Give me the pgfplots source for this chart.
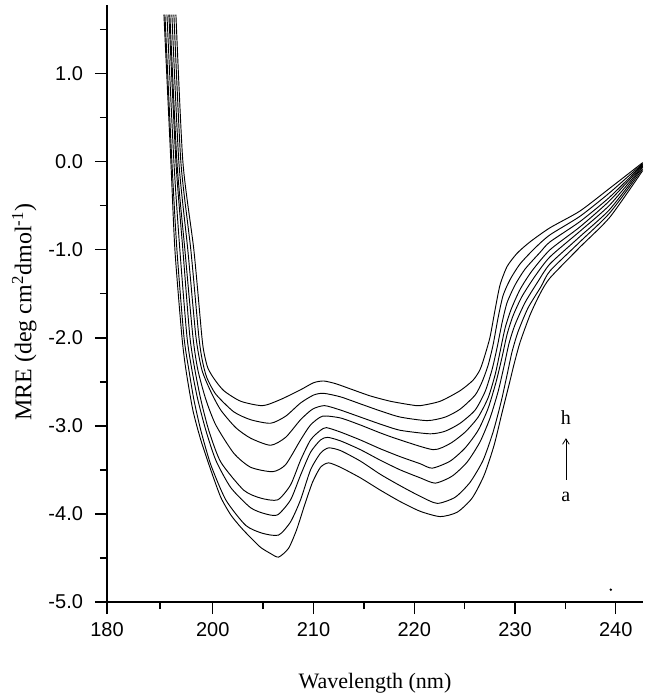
\documentclass[border=0pt]{standalone}
\usepackage{pgfplots}
\pgfplotsset{compat=1.18}
\usetikzlibrary{arrows.meta}
\usepackage{fontspec}
\setmainfont{Liberation Serif}
\newfontfamily\tickfont{Liberation Sans}
\begin{document}
\begin{tikzpicture}
\begin{axis}[
  scale only axis, width=402pt, height=447.75pt,
  xmin=189.5, xmax=242.7, ymin=-5, ymax=1.78,
  axis x line*=bottom, axis y line*=left,
  axis line style={line width=1pt, black, -},
  every tick/.style={black, line width=1pt},
  tick align=outside,
  major tick length=9pt, minor tick length=5.25pt,
  xtick={189.5,200,210,220,230,240},
  xticklabels={180,200,210,220,230,240},
  minor xtick={194.75,205,215,225,235},
  ytick={-5,-4,-3,-2,-1,0,1},
  minor ytick={-4.5,-3.5,-2.5,-1.5,-0.5,0.5,1.5},
  /pgf/number format/assume math mode=true,
  yticklabel style={/pgf/number format/fixed, /pgf/number format/fixed zerofill, /pgf/number format/precision=1, font=\tickfont\fontsize{15}{15}\selectfont, xshift=-5.5pt},
  xticklabel style={font=\tickfont\fontsize{15}{15}\selectfont, yshift=-3pt},
  scaled y ticks=false,
  clip=false,
  xlabel={Wavelength (nm)},
  ylabel={MRE (deg cm\textsuperscript{2}dmol\textsuperscript{-1})},
  every axis x label/.style={at={([yshift=-61pt]rel axis cs:0.5,0)}, anchor=center, font=\fontsize{16.5}{16.5}\selectfont},
  every axis y label/.style={at={([xshift=-62pt,yshift=-6.5pt]rel axis cs:0,0.5)}, anchor=center, rotate=90, font=\fontsize{18}{18}\selectfont},
  cycle list={{black, solid, mark=none}},
  every axis plot/.append style={line width=0.7pt, smooth, tension=0.4},
]
% h
\addplot coordinates {(196.34,1.67)(197.03,0)(198.12,-1.00)(198.91,-1.98)(199.15,-2.18)(199.50,-2.34)(200.10,-2.46)(201.09,-2.60)(202.77,-2.72)(204.95,-2.77)(206.73,-2.70)(208.71,-2.59)(210.00,-2.51)(210.99,-2.49)(212.18,-2.52)(213.66,-2.58)(215.64,-2.66)(217.62,-2.72)(219.60,-2.76)(220.59,-2.77)(222.57,-2.72)(224.55,-2.60)(225.84,-2.48)(226.53,-2.36)(227.03,-2.19)(227.52,-1.99)(228.02,-1.68)(228.51,-1.40)(229.21,-1.19)(230.20,-1.04)(231.49,-0.91)(233.47,-0.75)(236.44,-0.56)(239.41,-0.30)(242.67,-0.01)};
% g
\addplot coordinates {(196.14,1.67)(196.83,0)(197.82,-1.00)(198.61,-1.98)(198.95,-2.25)(199.40,-2.45)(200.30,-2.64)(202.08,-2.84)(203.76,-2.93)(205.74,-2.97)(207.23,-2.89)(208.71,-2.74)(210.00,-2.65)(210.99,-2.63)(212.67,-2.67)(214.65,-2.75)(216.63,-2.83)(218.61,-2.90)(221.29,-2.94)(223.07,-2.90)(224.55,-2.81)(226.04,-2.65)(226.73,-2.50)(227.33,-2.31)(227.82,-2.08)(228.32,-1.77)(228.81,-1.52)(229.50,-1.34)(230.50,-1.16)(231.98,-0.98)(233.47,-0.83)(236.44,-0.62)(239.41,-0.35)(242.67,-0.02)};
% f
\addplot coordinates {(195.94,1.67)(196.63,0)(197.52,-1.00)(198.32,-1.98)(198.91,-2.36)(199.80,-2.61)(200.79,-2.82)(202.28,-3.02)(203.76,-3.14)(205.74,-3.22)(207.23,-3.13)(208.71,-2.93)(209.90,-2.81)(211.09,-2.77)(212.67,-2.82)(214.65,-2.90)(216.63,-2.98)(218.61,-3.05)(221.58,-3.09)(223.07,-3.06)(224.55,-2.97)(226.04,-2.82)(227.03,-2.61)(227.72,-2.36)(228.22,-2.11)(228.71,-1.83)(229.21,-1.60)(230.00,-1.40)(230.99,-1.22)(232.48,-1.03)(233.47,-0.91)(236.44,-0.68)(239.41,-0.40)(242.67,-0.03)};
% e
\addplot coordinates {(195.74,1.67)(196.44,0)(197.23,-1.00)(198.02,-1.98)(198.51,-2.36)(199.31,-2.70)(200.30,-2.99)(202.08,-3.31)(203.76,-3.47)(205.94,-3.52)(207.23,-3.44)(208.71,-3.16)(209.70,-2.99)(210.89,-2.89)(212.67,-2.91)(214.65,-2.99)(216.63,-3.08)(218.61,-3.16)(221.88,-3.27)(223.56,-3.20)(225.05,-3.07)(226.34,-2.90)(227.33,-2.68)(228.02,-2.42)(228.51,-2.16)(229.01,-1.89)(229.60,-1.68)(230.50,-1.45)(231.68,-1.24)(233.47,-1.00)(236.44,-0.74)(239.41,-0.44)(242.67,-0.04)};
% d
\addplot coordinates {(195.64,1.67)(196.34,0)(197.03,-1.00)(197.72,-1.98)(198.22,-2.36)(198.81,-2.70)(199.60,-3.05)(200.79,-3.41)(203.07,-3.73)(204.75,-3.82)(206.44,-3.84)(207.72,-3.67)(208.71,-3.39)(209.70,-3.16)(210.69,-3.05)(211.29,-3.02)(212.67,-3.07)(214.65,-3.16)(216.63,-3.26)(218.61,-3.35)(220.59,-3.43)(221.78,-3.48)(223.56,-3.40)(225.05,-3.25)(226.34,-3.05)(227.33,-2.80)(228.12,-2.50)(228.71,-2.22)(229.21,-1.96)(229.80,-1.75)(230.69,-1.53)(231.98,-1.30)(233.47,-1.08)(236.44,-0.79)(239.41,-0.49)(242.67,-0.05)};
% c
\addplot coordinates {(195.45,1.67)(196.14,0)(196.73,-1.00)(197.43,-1.98)(197.92,-2.36)(198.51,-2.70)(199.31,-3.05)(200.30,-3.39)(201.78,-3.70)(203.76,-3.93)(205.25,-4.00)(206.44,-4.01)(207.72,-3.84)(208.71,-3.56)(209.70,-3.30)(210.69,-3.16)(211.39,-3.13)(212.67,-3.17)(214.65,-3.27)(216.63,-3.39)(218.61,-3.50)(220.59,-3.59)(222.08,-3.65)(223.76,-3.57)(225.25,-3.41)(226.53,-3.18)(227.52,-2.91)(228.32,-2.61)(228.91,-2.32)(229.41,-2.06)(230.00,-1.85)(230.99,-1.60)(232.28,-1.36)(233.47,-1.16)(236.44,-0.85)(239.41,-0.54)(242.67,-0.06)};
% b
\addplot coordinates {(195.25,1.67)(195.94,0)(196.44,-1.00)(197.13,-1.98)(197.62,-2.36)(198.12,-2.70)(198.81,-3.05)(199.80,-3.44)(201.29,-3.84)(203.27,-4.13)(204.95,-4.22)(206.53,-4.24)(207.72,-4.09)(208.71,-3.84)(209.70,-3.50)(210.69,-3.31)(211.49,-3.25)(212.67,-3.28)(214.65,-3.40)(216.63,-3.55)(218.61,-3.68)(220.59,-3.80)(222.28,-3.88)(224.06,-3.81)(225.54,-3.64)(226.83,-3.39)(227.82,-3.07)(228.61,-2.73)(229.21,-2.42)(229.70,-2.16)(230.30,-1.93)(231.29,-1.66)(232.57,-1.42)(233.47,-1.24)(236.44,-0.91)(239.41,-0.58)(242.67,-0.08)};
% a
\addplot coordinates {(195.15,1.67)(195.84,0)(196.24,-1.00)(196.93,-1.98)(197.33,-2.36)(198.02,-2.82)(198.81,-3.16)(199.80,-3.50)(200.79,-3.81)(201.78,-4.01)(202.77,-4.15)(203.76,-4.27)(204.75,-4.38)(205.74,-4.45)(206.53,-4.49)(207.52,-4.39)(208.32,-4.18)(209.11,-3.90)(209.90,-3.64)(210.69,-3.47)(211.49,-3.42)(212.67,-3.47)(214.65,-3.59)(216.63,-3.73)(218.61,-3.86)(220.59,-3.97)(222.57,-4.03)(224.26,-3.98)(225.74,-3.82)(226.93,-3.56)(227.92,-3.22)(228.71,-2.85)(229.41,-2.53)(229.90,-2.30)(230.50,-2.05)(231.49,-1.74)(232.48,-1.50)(233.47,-1.32)(236.44,-0.97)(239.41,-0.63)(242.67,-0.10)};
% stray dot
\addplot[only marks, mark=*, mark size=0.5pt, smooth=false] coordinates {(239.5,-4.86)};
% annotation
\draw[-{Straight Barb[length=4pt,width=5pt]}, line width=0.6pt] (axis cs:235.05,-3.61) -- (axis cs:235.05,-3.14);
\node[font=\fontsize{15}{15}\selectfont, anchor=base] at (axis cs:235.05,-2.98) {h};
\node[font=\fontsize{15}{15}\selectfont, anchor=base] at (axis cs:235.05,-3.86) {a};
% page frame
\path ([xshift=-80.25pt,yshift=-72.75pt]rel axis cs:0,0) rectangle ([xshift=405pt,yshift=451.5pt]rel axis cs:0,0);
\end{axis}
\end{tikzpicture}
\end{document}
